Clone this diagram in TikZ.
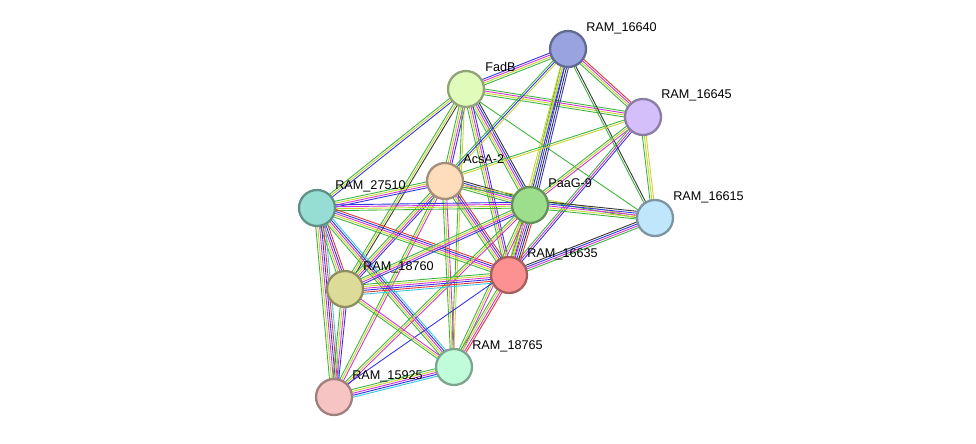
\documentclass[tikz,border=0pt]{standalone}
\usepackage{fontspec}
\setmainfont{Liberation Sans}
\usepackage{tikz}
\usetikzlibrary{calc}
\definecolor{eg}{HTML}{3CB43C}
\definecolor{ey}{HTML}{C8D232}
\definecolor{em}{HTML}{D232D2}
\definecolor{eb}{HTML}{3232E6}
\definecolor{ek}{HTML}{333333}
\definecolor{er}{HTML}{E63232}
\definecolor{ec}{HTML}{32C8E6}
\definecolor{c16640}{HTML}{98A3E0}
\definecolor{cfadb}{HTML}{E0FBBA}
\definecolor{c16645}{HTML}{D4BFFB}
\definecolor{cacsa}{HTML}{FDDDBB}
\definecolor{c27510}{HTML}{96DED3}
\definecolor{cpaag}{HTML}{9DDE8C}
\definecolor{c16615}{HTML}{C0E6FB}
\definecolor{c16635}{HTML}{FD9191}
\definecolor{c18760}{HTML}{DCDB98}
\definecolor{c18765}{HTML}{C0FCDA}
\definecolor{c15925}{HTML}{F7C4C4}
\tikzset{
  prot/.style={circle,draw=#1!65!black,fill=#1,line width=1.3pt,minimum size=0.72cm,inner sep=0pt},
  lab/.style={anchor=west,inner sep=0pt,font=\fontsize{7.2}{8}\selectfont},
}
\begin{document}
\begin{tikzpicture}[x=0.02cm,y=-0.02cm]
            \useasboundingbox (0,0) rectangle (976,443);
            \coordinate (r16640) at (568,49);
            \coordinate (fadb) at (466,89);
            \coordinate (r16645) at (643,117);
            \coordinate (acsa) at (445,181);
            \coordinate (r27510) at (317,208);
            \coordinate (paag) at (530,205);
            \coordinate (r16615) at (655,218);
            \coordinate (r16635) at (509,275);
            \coordinate (r18760) at (345,289);
            \coordinate (r18765) at (454,367);
            \coordinate (r15925) at (334,397);
            % edges, one thin line per evidence colour
            \foreach \a/\b/\cs in {
              fadb/r16640/{eg,ey,em,eb}, fadb/r16645/{eg,ey,em,eg}, fadb/acsa/{eg,ey,em,eb},
              fadb/paag/{eg,ey,em,eb,ek}, fadb/r27510/{eg,ey,eb}, fadb/r18760/{eg,ey,ek},
              fadb/r16635/{eg,ey,em,eb}, fadb/r18765/{eg,ey}, fadb/r16615/{eg},
              r16640/r16645/{eg,ey,em,er}, r16640/paag/{eg,ey,eb,ek,eb}, r16640/r16635/{ey,ey,eb},
              r16640/r16615/{eg,ek}, r16640/acsa/{eg,eb,ey},
              r16645/acsa/{eg,ey}, r16645/paag/{eg,ey,em}, r16645/r16635/{eg,em,eb}, r16645/r16615/{eg,ey,ey},
              acsa/r27510/{eg,ey,em,eb}, acsa/paag/{eg,ey,em,eb,ek}, acsa/r16635/{eg,ey,em,eb,er},
              acsa/r18760/{eg,ey,em,eb}, acsa/r18765/{eg,ey,em}, acsa/r15925/{eg,ey,em}, acsa/r16615/{eg,ey},
              r27510/paag/{eg,ey,em,eb}, r27510/r16635/{eg,ey,em,eb,er}, r27510/r18760/{eg,ey,em,eb,er},
              r27510/r18765/{eg,ey,em,eb,ec}, r27510/r15925/{eg,ey,em,eb,er,ec},
              paag/r16615/{eg,ey,em,eb,ek}, paag/r16635/{eg,ey,em,eb,ek,er}, paag/r18760/{eg,ey,em,eb},
              paag/r18765/{eg,ey,em}, paag/r15925/{eg,ey,em},
              r16635/r16615/{eg,em,eb,ek}, r16635/r18760/{eg,ey,em,eb,er,ec}, r16635/r18765/{eg,ey,em,er},
              r16635/r15925/{eb}, r18760/r18765/{eg,ey,em}, r18760/r15925/{eg,ey,em,eb},
              r18765/r15925/{eg,ey,em,eb,ec}}
              \foreach \c [count=\i] in \cs
                \draw[\c,line width=0.5pt] ($(\a)!{(\i-2.5)*1.1pt}!90:(\b)$) -- ($(\b)!{(\i-2.5)*1.1pt}!-90:(\a)$);
            \node[lab] (l16640) at (586,28) {RAM\_16640};
            \node[lab] (lfadb) at (485,67) {FadB};
            \node[lab] (l16645) at (661,95) {RAM\_16645};
            \node[lab] (lacsa) at (463,159) {AcsA-2};
            \node[lab] (l27510) at (335,186) {RAM\_27510};
            \node[lab] (lpaag) at (548,183) {PaaG-9};
            \node[lab] (l16615) at (673,197) {RAM\_16615};
            \node[lab] (l16635) at (527,254) {RAM\_16635};
            \node[lab] (l18760) at (363,267) {RAM\_18760};
            \node[lab] (l18765) at (472,346) {RAM\_18765};
            \node[lab] (l15925) at (352,376) {RAM\_15925};
            \node[prot=c16640] (n16640) at (r16640) {};
            \node[prot=cfadb] (nfadb) at (fadb) {};
            \node[prot=c16645] (n16645) at (r16645) {};
            \node[prot=cacsa] (nacsa) at (acsa) {};
            \node[prot=c27510] (n27510) at (r27510) {};
            \node[prot=cpaag] (npaag) at (paag) {};
            \node[prot=c16615] (n16615) at (r16615) {};
            \node[prot=c16635] (n16635) at (r16635) {};
            \node[prot=c18760] (n18760) at (r18760) {};
            \node[prot=c18765] (n18765) at (r18765) {};
            \node[prot=c15925] (n15925) at (r15925) {};
\end{tikzpicture}
\end{document}
